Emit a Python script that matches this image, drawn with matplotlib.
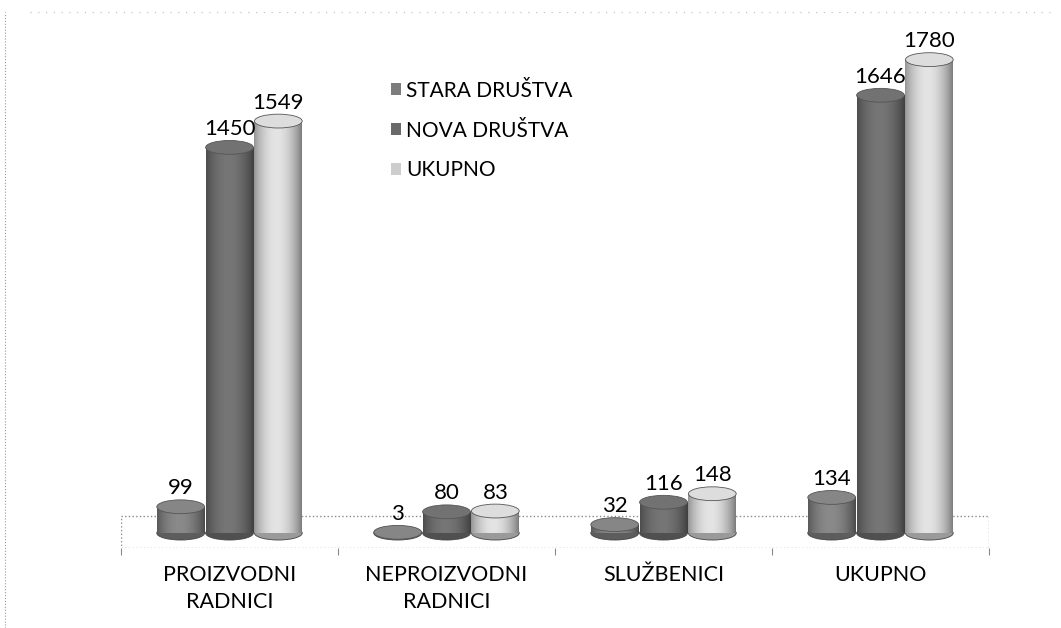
import numpy as np
import matplotlib
matplotlib.use("Agg")
import matplotlib.pyplot as plt
from matplotlib.patches import Ellipse, Rectangle
from matplotlib.lines import Line2D
import matplotlib.colors as mcolors

# === Data ===
categories = ["PROIZVODNI\nRADNICI", "NEPROIZVODNI\nRADNICI", "SLUŽBENICI", "UKUPNO"]
series_names = ["STARA DRUŠTVA", "NOVA DRUŠTVA", "UKUPNO"]
stara = [99, 3, 32, 134]
nova = [1450, 80, 116, 1646]
ukupno = [1549, 83, 148, 1780]
series_values = [stara, nova, ukupno]
series_colors = ["#7c7c7c", "#6a6a6a", "#cdcdcd"]

FONT = "Lato"
BAR_W = 0.22
OFFSETS = [-0.225, 0.0, 0.225]
CAP_H = 52  # ellipse height in data units

fig = plt.figure(figsize=(10.61, 6.28), dpi=100)
ax = fig.add_axes([121 / 1061, 80 / 628, 868 / 1061, 528 / 628])
ax.set_xlim(-0.5, 3.5)
ax.set_ylim(-56, 1929)

# floor platform
ax.add_patch(Rectangle((-0.5, -56), 4, 122, facecolor="white", edgecolor="#8a8a8a",
                       linestyle=":", linewidth=1.0, zorder=0))


def shade(color, n=60):
    rgb = np.array(mcolors.to_rgb(color))
    t = np.linspace(0, 1, n)
    k = 0.72 + 0.45 * np.sin(np.pi * t) ** 0.8 - 0.12 * t
    img = np.clip(rgb[None, :] * k[:, None], 0, 1)
    return img[None, :, :]


x = np.arange(len(categories))
for vals, off, col, name in zip(series_values, OFFSETS, series_colors, series_names):
    bars = ax.bar(x + off, vals, BAR_W, color=col, zorder=2, label=name)
    for b, v in zip(bars, vals):
        cx = b.get_x() + b.get_width() / 2
        dark = tuple(np.clip(np.array(mcolors.to_rgb(col)) * 0.75, 0, 1))
        # bottom of the cylinder
        ax.add_patch(Ellipse((cx, 0), BAR_W, CAP_H, facecolor=dark, edgecolor="#444444",
                             linewidth=0.6, zorder=1.9))
        im = ax.imshow(shade(col), extent=(b.get_x(), b.get_x() + b.get_width(), 0, v),
                       aspect="auto", zorder=2.1, interpolation="bilinear")
        im.set_clip_path(b)
        # top cap
        light = tuple(np.clip(np.array(mcolors.to_rgb(col)) * 1.08, 0, 1))
        ax.add_patch(Ellipse((cx, v), BAR_W, CAP_H, facecolor=light, edgecolor="#555555",
                             linewidth=0.6, zorder=2.3))
        ax.annotate(str(v), (cx, v), xytext=(0, 9), textcoords="offset points",
                    ha="center", va="baseline", fontsize=16, family=FONT, zorder=3)

ax.set_xlim(-0.5, 3.5)
ax.set_ylim(-56, 1929)

for s in ax.spines.values():
    s.set_visible(False)
ax.set_yticks([])
ax.set_xticks(x)
ax.set_xticklabels(categories, fontsize=15.5, family=FONT, linespacing=1.45)
ax.tick_params(axis="x", which="major", length=0, pad=12)
ax.set_xticks([-0.5, 0.5, 1.5, 2.5, 3.5], minor=True)
ax.tick_params(axis="x", which="minor", length=5, color="#8a8a8a", width=0.8)

handles = [Rectangle((0, 0), 1, 1, facecolor=c, edgecolor="none") for c in series_colors]
fig.legend(handles, series_names, loc="upper left", bbox_to_anchor=(372 / 1061, 1 - 62 / 628),
           frameon=False, prop={"family": FONT, "size": 15}, handlelength=0.5,
           handleheight=0.5, handletextpad=0.25, labelspacing=0.95)

# scan border remnants
fig.add_artist(Line2D([5 / 1061, 5 / 1061], [0, 1 - 12 / 628], transform=fig.transFigure,
                      color="#999999", linestyle=":", linewidth=0.8))
fig.add_artist(Line2D([30 / 1061, 1050 / 1061], [1 - 12 / 628, 1 - 12 / 628],
                      transform=fig.transFigure, color="#bbbbbb", linestyle=(0, (1, 6)),
                      linewidth=0.8))

plt.savefig("out.png", dpi=100)
